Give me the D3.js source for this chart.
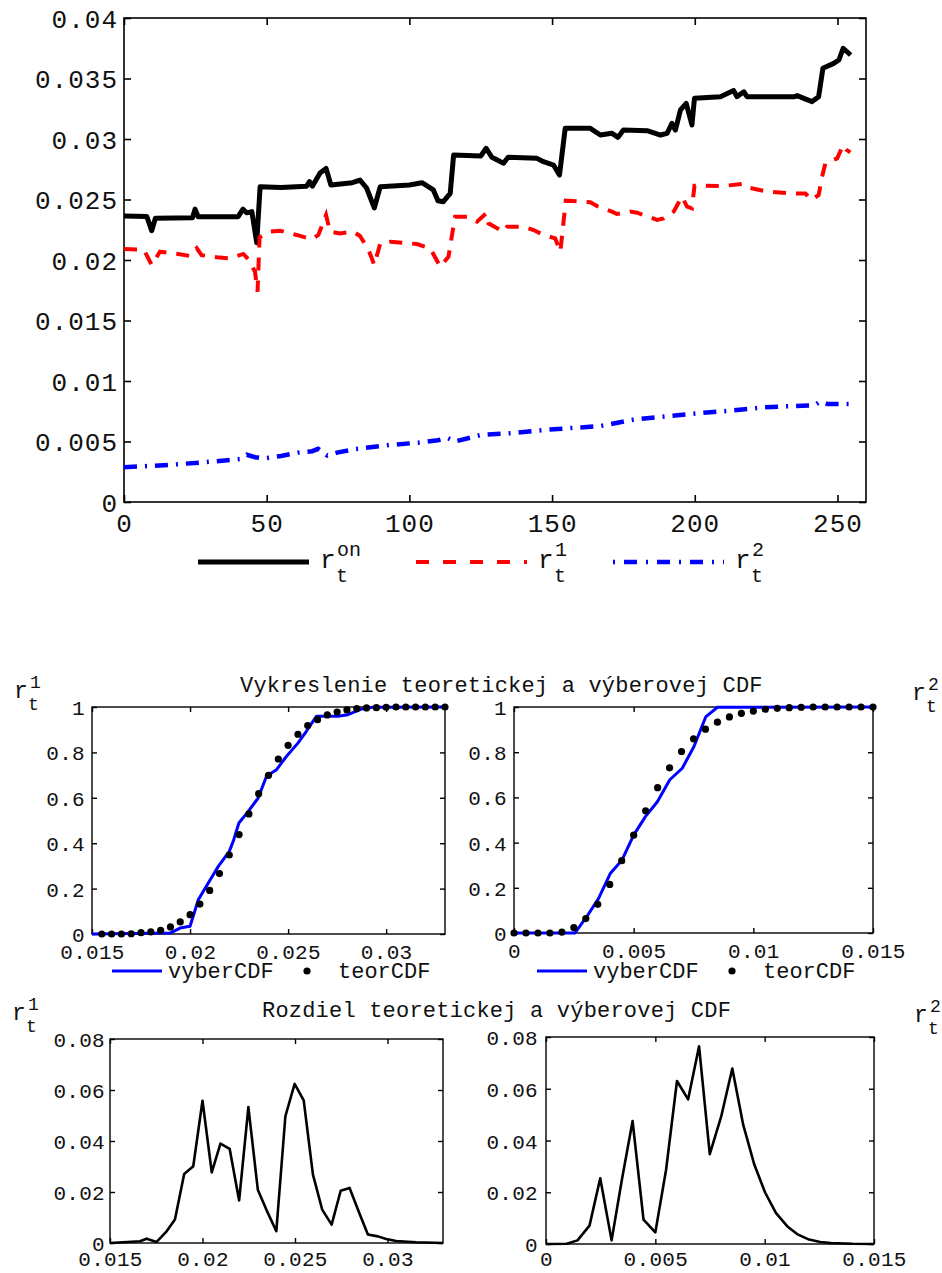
<!DOCTYPE html>
<html><head><meta charset="utf-8">
<script src="https://cdn.jsdelivr.net/npm/d3@7"></script>
<style>
body{margin:0;background:#fff}
svg{display:block}
text{font-family:"Liberation Mono","Courier New",monospace;fill:#111}
</style>
</head><body>
<svg id="c" width="942" height="1273"></svg>
<script>
// ---------- top chart data ----------
const topXTicks = [0, 50, 100, 150, 200, 250];
const topYTicks = [0, 0.005, 0.01, 0.015, 0.02, 0.025, 0.03, 0.035, 0.04];
const onT = [0, 8, 9.7, 11, 24, 24.9, 26, 40, 41.7, 43, 44.8, 46.5, 47.7, 55, 64, 65, 66, 68.7, 70.8, 72.5, 80, 82.7, 85, 87.7, 89.8, 100, 104.4, 108.4, 110, 111.9, 114.3, 115.5, 125, 126.9, 128.9, 133, 134.6, 144.7, 147, 150.5, 152.6, 154.6, 163.4, 166.9, 171, 173.1, 175, 183.3, 188, 190.3, 192, 193.2, 195, 197, 199, 199.9, 209, 213.6, 214.8, 217.2, 218.3, 235, 235.9, 238.2, 241.1, 243.4, 244.9, 248.7, 250.5, 252, 254.6];
const onV = [0.02364, 0.0236, 0.02242, 0.02345, 0.0235, 0.0242, 0.02358, 0.02358, 0.0242, 0.0239, 0.0240, 0.02143, 0.02606, 0.0260, 0.0261, 0.02647, 0.0261, 0.0272, 0.02757, 0.0262, 0.02639, 0.0266, 0.02595, 0.0243, 0.02606, 0.0262, 0.02639, 0.02579, 0.0249, 0.02482, 0.0255, 0.02868, 0.0286, 0.02923, 0.02849, 0.0280, 0.0285, 0.0284, 0.02812, 0.02785, 0.02702, 0.03088, 0.03088, 0.03033, 0.03047, 0.03014, 0.03074, 0.03069, 0.03033, 0.03047, 0.0313, 0.03074, 0.0324, 0.03295, 0.03116, 0.03336, 0.0335, 0.034, 0.0335, 0.0339, 0.0335, 0.0335, 0.03358, 0.03336, 0.03309, 0.0335, 0.03584, 0.03625, 0.03653, 0.0375, 0.03694];
const r1T = [0, 7, 9.7, 12.6, 19, 23.1, 25.5, 27.2, 32.5, 37.2, 41.8, 43.6, 45.9, 46.8, 47.5, 51.2, 54.7, 60.5, 65.8, 68.1, 70.8, 72.2, 75.7, 80.4, 82.7, 85.7, 87.7, 89.8, 93.3, 102.6, 107.3, 110.8, 113.7, 116, 120.2, 123.7, 126.9, 127.7, 133, 134.2, 137.7, 140, 143.5, 147, 151.1, 152.9, 154.8, 163.4, 165.7, 171, 172.7, 177.4, 179.8, 186.8, 189.1, 192.6, 195.5, 197.3, 199, 199.9, 210, 216.5, 217.4, 225.4, 233.5, 238.8, 240.8, 243.4, 244.6, 245.8, 249.9, 252, 253.2, 254.5];
const r1V = [0.02091, 0.02083, 0.01959, 0.02069, 0.0205, 0.02033, 0.02097, 0.0204, 0.02022, 0.02014, 0.0205, 0.02006, 0.01903, 0.01738, 0.02188, 0.02234, 0.02242, 0.02207, 0.02171, 0.02207, 0.02372, 0.02234, 0.0222, 0.02234, 0.02198, 0.02083, 0.01959, 0.02138, 0.02151, 0.02132, 0.02097, 0.01945, 0.02027, 0.02358, 0.02358, 0.02317, 0.02386, 0.02303, 0.02234, 0.02275, 0.02275, 0.02275, 0.02248, 0.02207, 0.02179, 0.02069, 0.0249, 0.02478, 0.02446, 0.024, 0.0238, 0.024, 0.02391, 0.02331, 0.02344, 0.024, 0.02523, 0.02441, 0.02427, 0.02614, 0.02612, 0.02628, 0.02606, 0.02565, 0.0255, 0.0255, 0.02496, 0.02537, 0.02689, 0.028, 0.0284, 0.0295, 0.0291, 0.0289];
const r2T = [0, 15.4, 28.9, 40.7, 43, 46, 49, 55, 61, 66, 68, 71.2, 75, 81.2, 93, 103, 110, 113.3, 116, 125, 135, 147, 155.3, 167, 179, 190.7, 201, 212.7, 224.5, 234.6, 242, 244, 246.4, 255];
const r2V = [0.00287, 0.00306, 0.0033, 0.00355, 0.0039, 0.0037, 0.0036, 0.0038, 0.00408, 0.0042, 0.0044, 0.00385, 0.0041, 0.00438, 0.00471, 0.0049, 0.0051, 0.0053, 0.0050, 0.00554, 0.00568, 0.00595, 0.00609, 0.00628, 0.00683, 0.0071, 0.00733, 0.00755, 0.00783, 0.00793, 0.0080, 0.0083, 0.0081, 0.0081];

// ---------- CDF panel data ----------
const cdf1XTicks = [0.015, 0.02, 0.025, 0.03];
const cdf2XTicks = [0, 0.005, 0.01, 0.015];
const cdfYTicks = [0, 0.2, 0.4, 0.6, 0.8, 1];
const diffYTicks = [0, 0.02, 0.04, 0.06, 0.08];

const vyb1X = [0.015, 0.01898, 0.01949, 0.02, 0.02042, 0.02093, 0.02144, 0.022, 0.0222, 0.02249, 0.02297, 0.02347, 0.0239, 0.02441, 0.02492, 0.02551, 0.02593, 0.02644, 0.02703, 0.02754, 0.02805, 0.02873, 0.02932, 0.033];
const vyb1Y = [0, 0.004, 0.026, 0.034, 0.151, 0.225, 0.298, 0.364, 0.408, 0.489, 0.54, 0.599, 0.695, 0.724, 0.783, 0.842, 0.893, 0.959, 0.959, 0.959, 0.966, 0.991, 0.999, 1];
const teor1X = [0.0155, 0.016, 0.0165, 0.017, 0.0175, 0.018, 0.0185, 0.019, 0.0195, 0.02, 0.0205, 0.021, 0.0215, 0.022, 0.0225, 0.023, 0.0235, 0.024, 0.0245, 0.025, 0.0255, 0.026, 0.0265, 0.027, 0.0275, 0.028, 0.0285, 0.029, 0.0295, 0.03, 0.0305, 0.031, 0.0315, 0.032, 0.0325, 0.033];
const teor1Y = [0, 0, 0, 0.001, 0.006, 0.009, 0.016, 0.031, 0.053, 0.085, 0.132, 0.192, 0.266, 0.348, 0.438, 0.529, 0.618, 0.699, 0.771, 0.831, 0.88, 0.918, 0.944, 0.965, 0.978, 0.987, 0.993, 0.996, 0.997, 0.999, 1, 1, 1, 1, 1, 1];

const vyb2X = [0, 0.00255, 0.00303, 0.00353, 0.00402, 0.00451, 0.005, 0.00549, 0.00599, 0.00651, 0.00703, 0.00752, 0.00801, 0.0085, 0.015];
const vyb2Y = [0, 0, 0.071, 0.152, 0.263, 0.322, 0.433, 0.515, 0.581, 0.678, 0.729, 0.825, 0.956, 0.999, 1];
const teor2X = [0, 0.0005, 0.001, 0.0015, 0.002, 0.0025, 0.003, 0.0035, 0.004, 0.0045, 0.005, 0.0055, 0.006, 0.0065, 0.007, 0.0075, 0.008, 0.0085, 0.009, 0.0095, 0.01, 0.0105, 0.011, 0.0115, 0.012, 0.0125, 0.013, 0.0135, 0.014, 0.0145, 0.015];
const teor2Y = [0, 0, 0, 0, 0.004, 0.024, 0.064, 0.127, 0.215, 0.32, 0.433, 0.541, 0.643, 0.731, 0.803, 0.859, 0.902, 0.933, 0.956, 0.972, 0.982, 0.99, 0.994, 0.997, 0.999, 1, 1, 1, 1, 1, 1];

// ---------- difference panel data ----------
const diff1X = [0.015, 0.01662, 0.01698, 0.01752, 0.01806, 0.01851, 0.01901, 0.0195, 0.02, 0.0205, 0.02097, 0.02147, 0.02198, 0.02248, 0.02299, 0.02345, 0.02399, 0.02448, 0.02498, 0.02547, 0.02597, 0.02647, 0.02698, 0.02747, 0.02795, 0.02849, 0.02894, 0.02948, 0.02993, 0.03047, 0.03155, 0.033];
const diff1Y = [0, 0.0007, 0.0017, 0.0004, 0.0046, 0.0092, 0.0271, 0.0301, 0.0558, 0.0277, 0.039, 0.0369, 0.0167, 0.0533, 0.0209, 0.0131, 0.0046, 0.0497, 0.0624, 0.0559, 0.0268, 0.0131, 0.0072, 0.0205, 0.0216, 0.0115, 0.0033, 0.0026, 0.0016, 0.0008, 0.0003, 0];
const diff2X = [0, 0.00095, 0.00144, 0.00199, 0.00248, 0.003, 0.00347, 0.00396, 0.00446, 0.005, 0.00549, 0.00599, 0.0065, 0.007, 0.00749, 0.00801, 0.00852, 0.00902, 0.00953, 0.01002, 0.01052, 0.01104, 0.01153, 0.01203, 0.01254, 0.01303, 0.01402, 0.015];
const diff2Y = [0, 0.0001, 0.0014, 0.0071, 0.0254, 0.0014, 0.0248, 0.0475, 0.0094, 0.0045, 0.0286, 0.063, 0.0559, 0.0764, 0.0347, 0.0492, 0.0678, 0.046, 0.0306, 0.0199, 0.0119, 0.0068, 0.0036, 0.0017, 0.0008, 0.0004, 0.0001, 0];

// ---------- texts ----------
const title1 = "Vykreslenie teoretickej a výberovej CDF";
const title2 = "Rozdiel teoretickej a výberovej CDF";
const legendTop = [{sup: "on", color: "#000"}, {sup: "1", color: "#ff0000"}, {sup: "2", color: "#0000ff"}];
const legendCdf = ["vyberCDF", "teorCDF"];

const svg = d3.select("#c");
const fmt = v => String(+v.toFixed(4));
const zip = (a, b) => a.map((d, i) => [d, b[i]]);

function frame(x, y, o) {
  const g = svg.append("g");
  const [x0, x1] = x.range(), [y0, y1] = y.range();
  const tl = o.tick;
  const bottom = g.append("g").attr("transform", `translate(0,${y0})`)
    .call(d3.axisBottom(x).tickValues(o.xt).tickSize(-tl).tickFormat(fmt));
  const top = g.append("g").attr("transform", `translate(0,${y1})`)
    .call(d3.axisTop(x).tickValues(o.xt).tickSize(-tl).tickFormat(""));
  const left = g.append("g").attr("transform", `translate(${x0},0)`)
    .call(d3.axisLeft(y).tickValues(o.yt).tickSize(-tl).tickFormat(fmt));
  const right = g.append("g").attr("transform", `translate(${x1},0)`)
    .call(d3.axisRight(y).tickValues(o.yt).tickSize(-tl).tickFormat(""));
  [bottom, top, left, right].forEach(a => {
    a.select(".domain").remove();
    a.selectAll("line").attr("stroke", "#000").attr("stroke-width", o.sw);
    a.attr("font-family", null);
  });
  bottom.selectAll("text").attr("y", o.xLab).attr("dy", "0.36em")
    .style("font-size", o.fs + "px").style("letter-spacing", o.ls + "px").attr("fill", "#111");
  left.selectAll("text").attr("x", -o.yLab).attr("dy", "0.36em")
    .style("font-size", o.fs + "px").style("letter-spacing", o.ls + "px").attr("fill", "#111");
  g.append("rect").attr("x", x0).attr("y", y1).attr("width", x1 - x0).attr("height", y0 - y1)
    .attr("fill", "none").attr("stroke", "#000").attr("stroke-width", o.sw);
  return g;
}

// ---------- top chart ----------
const xT = d3.scaleLinear().domain([0, 260]).range([124, 866]);
const yT = d3.scaleLinear().domain([0, 0.04]).range([502, 18]);
frame(xT, yT, {xt: topXTicks, yt: topYTicks, tick: 7, sw: 1.6, fs: 26, ls: 1, xLab: 21, yLab: 6});
const lineT = d3.line().x(d => xT(d[0])).y(d => yT(d[1]));
svg.append("path").datum(zip(onT, onV)).attr("d", lineT)
  .attr("fill", "none").attr("stroke", "#000").attr("stroke-width", 5).attr("stroke-linejoin", "round");
svg.append("path").datum(zip(r1T, r1V)).attr("d", lineT)
  .attr("fill", "none").attr("stroke", "#ff0000").attr("stroke-width", 4).attr("stroke-dasharray", "13,10");
svg.append("path").datum(zip(r2T, r2V)).attr("d", lineT)
  .attr("fill", "none").attr("stroke", "#0000ff").attr("stroke-width", 4.5).attr("stroke-dasharray", "13,8,2,8");

// top legend
const legX = [198, 416, 613];
const legDash = [null, "13,14", "2,9,13,9"];
const legW = [5, 4, 4.5];
legendTop.forEach((d, i) => {
  svg.append("line").attr("x1", legX[i]).attr("x2", legX[i] + 111).attr("y1", 562).attr("y2", 562)
    .attr("stroke", d.color).attr("stroke-width", legW[i]).attr("stroke-dasharray", legDash[i]);
  const tx = legX[i] + 122;
  svg.append("text").attr("x", tx).attr("y", 568).style("font-size", "26px").text("r");
  svg.append("text").attr("x", tx + 17).attr("y", 556).style("font-size", "20px").text(d.sup);
  svg.append("text").attr("x", tx + 16).attr("y", 582).style("font-size", "20px").text("t");
});

// ---------- bottom panels ----------
const bo = {tick: 5, sw: 1.4, fs: 21, ls: 0.3, xLab: 17, yLab: 7};
const x1s = d3.scaleLinear().domain([0.015, 0.033]).range([92, 445]);
const y1s = d3.scaleLinear().domain([0, 1]).range([934, 707]);
const x2s = d3.scaleLinear().domain([0, 0.015]).range([514, 873]);
const y2s = d3.scaleLinear().domain([0, 1]).range([933, 707]);
const x3s = d3.scaleLinear().domain([0.015, 0.033]).range([110, 443]);
const y3s = d3.scaleLinear().domain([0, 0.08]).range([1243, 1039]);
const x4s = d3.scaleLinear().domain([0, 0.015]).range([546, 874]);
const y4s = d3.scaleLinear().domain([0, 0.08]).range([1244, 1037]);

frame(x1s, y1s, Object.assign({}, bo, {xt: cdf1XTicks, yt: cdfYTicks}));
frame(x2s, y2s, Object.assign({}, bo, {xt: cdf2XTicks, yt: cdfYTicks}));
frame(x3s, y3s, Object.assign({}, bo, {xt: cdf1XTicks, yt: diffYTicks, xLab: 15, yLab: 5}));
frame(x4s, y4s, Object.assign({}, bo, {xt: cdf2XTicks, yt: diffYTicks, xLab: 14, yLab: 8}));

function cdfPanel(xs, ys, vx, vy, tx, ty) {
  const ln = d3.line().x(d => xs(d[0])).y(d => ys(d[1]));
  svg.append("path").datum(zip(vx, vy)).attr("d", ln)
    .attr("fill", "none").attr("stroke", "#0000ff").attr("stroke-width", 3).attr("stroke-linejoin", "round");
  svg.append("g").selectAll("circle").data(zip(tx, ty)).join("circle")
    .attr("cx", d => xs(d[0])).attr("cy", d => ys(d[1])).attr("r", 3.6).attr("fill", "#000");
}
cdfPanel(x1s, y1s, vyb1X, vyb1Y, teor1X, teor1Y);
cdfPanel(x2s, y2s, vyb2X, vyb2Y, teor2X, teor2Y);

function diffPanel(xs, ys, dx, dy) {
  const ln = d3.line().x(d => xs(d[0])).y(d => ys(d[1]));
  svg.append("path").datum(zip(dx, dy)).attr("d", ln)
    .attr("fill", "none").attr("stroke", "#000").attr("stroke-width", 2.6).attr("stroke-linejoin", "round");
}
diffPanel(x3s, y3s, diff1X, diff1Y);
diffPanel(x4s, y4s, diff2X, diff2Y);

// CDF legends
function cdfLegend(lx) {
  svg.append("line").attr("x1", lx).attr("x2", lx + 50).attr("y1", 971).attr("y2", 971)
    .attr("stroke", "#0000ff").attr("stroke-width", 3);
  svg.append("text").attr("x", lx + 56).attr("y", 978).style("font-size", "22px").text(legendCdf[0]);
  svg.append("circle").attr("cx", lx + 195).attr("cy", 971).attr("r", 3.6).attr("fill", "#000");
  svg.append("text").attr("x", lx + 226).attr("y", 978).style("font-size", "22px").text(legendCdf[1]);
}
cdfLegend(112);
cdfLegend(537);

// titles
svg.append("text").attr("x", 240).attr("y", 692).style("font-size", "22px").style("letter-spacing", "0.2px").text(title1);
svg.append("text").attr("x", 262).attr("y", 1017).style("font-size", "22px").style("letter-spacing", "0.2px").text(title2);

// r_t labels
function rLabel(x, y, sup) {
  svg.append("text").attr("x", x).attr("y", y).style("font-size", "23px").text("r");
  svg.append("text").attr("x", x + 16).attr("y", y - 10).style("font-size", "18px").text(sup);
  svg.append("text").attr("x", x + 14).attr("y", y + 12).style("font-size", "18px").text("t");
}
rLabel(14, 698, "1");
rLabel(912, 700, "2");
rLabel(12, 1020, "1");
rLabel(914, 1022, "2");
</script>
</body></html>
